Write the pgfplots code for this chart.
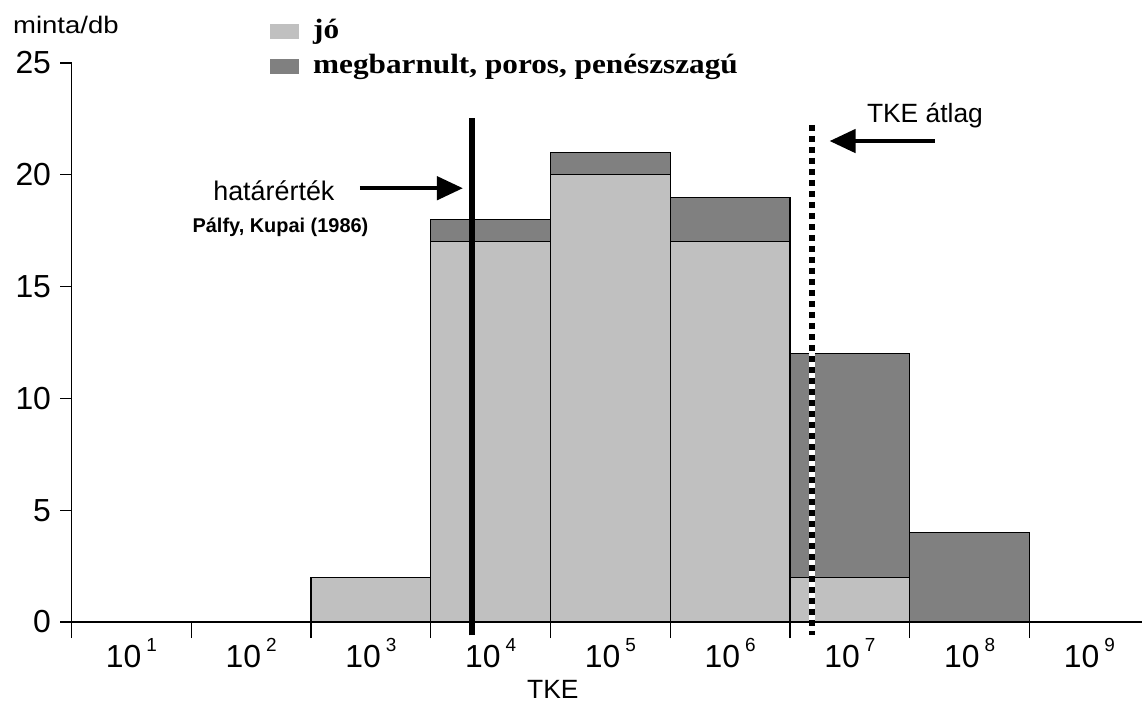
\documentclass[border=0pt]{standalone}
\usepackage{fontspec}
\setmainfont{Liberation Sans}
\newfontfamily\legfont[FakeStretch=1.12]{Liberation Serif}
\newfontfamily\widesans[FakeStretch=1.15]{Liberation Sans}
\usepackage{pgfplots}
\pgfplotsset{compat=1.18}
\usetikzlibrary{arrows.meta}

\definecolor{jo}{HTML}{C0C0C0}
\definecolor{barna}{HTML}{808080}

% tick label of the form 10^n, exponent set small and raised
\newcommand\tk[1]{10\hspace{5bp}\raisebox{16bp}{\fontsize{19}{19}\selectfont #1}}

\begin{document}
\begin{tikzpicture}
\path[use as bounding box] (0,0) rectangle (1142bp,-702bp);
\begin{axis}[
  at={(71.5bp,-622bp)}, anchor=south west,
  x=119.75bp, y=22.36bp,
  xmin=0.5, xmax=9.44, ymin=0, ymax=25,
  axis lines=left,
  axis line style={-, line width=1.3bp, black},
  clip=false,
  ybar stacked, bar width=1,
  xtick={1,...,9},
  xticklabels={\tk1,\tk2,\tk3,\tk4,\tk5,\tk6,\tk7,\tk8,\tk9},
  minor xtick={0.5,1.5,...,8.5},
  major x tick style={draw=none},
  minor x tick style={line width=1.3bp, black},
  ytick={0,5,...,25},
  major y tick style={line width=1.3bp, black},
  tick align=outside,
  major tick length=11bp, minor tick length=16bp,
  ticklabel style={font=\fontsize{32}{32}\selectfont},
  /pgf/number format/assume math mode=true,
  xticklabel style={anchor=base, yshift=-34bp},
  yticklabel style={anchor=east, xshift=-6bp},
  legend cell align=left,
  legend image code/.code={\fill[#1,draw=none] (0bp,-7.5bp) rectangle (29bp,7.5bp);},
  legend style={draw=none, fill=none, at={(0.1854,1.0805)}, anchor=north west,
    inner sep=0pt, row sep=8bp,
    font=\legfont\bfseries\fontsize{28}{28}\selectfont,
    nodes={inner sep=0pt, text height=20bp, text depth=7bp},
    /tikz/every odd column/.style={column sep=14bp}},
]
\addplot[fill=jo, draw=black, line width=1.2bp]
  coordinates {(3,2) (4,17) (5,20) (6,17) (7,2) (8,0)};
\addlegendentry{jó}
\addplot[fill=barna, draw=black, line width=1.2bp]
  coordinates {(3,0) (4,1) (5,1) (6,2) (7,10) (8,4)};
\addlegendentry{megbarnult, poros, penészszagú}

% reference points for the marker lines, drawn above the bars below
\coordinate (hatar-lo) at (axis cs:3.845,-0.6);
\coordinate (hatar-hi) at (axis cs:3.845,22.54);
\coordinate (hatar-a) at (axis cs:2.909,19.4);
\coordinate (hatar-b) at (axis cs:3.769,19.4);
\coordinate (atlag-lo) at (axis cs:6.684,-0.6);
\coordinate (atlag-hi) at (axis cs:6.684,22.23);
\coordinate (atlag-a) at (axis cs:7.71,21.51);
\coordinate (atlag-b) at (axis cs:6.83,21.51);

\node[anchor=base, inner sep=0pt, font=\fontsize{27}{27}\selectfont]
  at (axis cs:2.19,18.87) {határérték};
\node[anchor=base, inner sep=0pt, font=\bfseries\fontsize{20}{20}\selectfont]
  at (axis cs:2.245,17.44) {Pálfy, Kupai (1986)};
\node[anchor=base, inner sep=0pt, font=\fontsize{26.5}{26.5}\selectfont]
  at (axis cs:7.627,22.36) {TKE átlag};

% axis titles
\node[anchor=base west, inner sep=0pt, font=\widesans\fontsize{24}{24}\selectfont]
  at (axis cs:0.0115,26.3) {minta/db};
\node[anchor=base, inner sep=0pt, font=\fontsize{26.5}{26.5}\selectfont]
  at (axis cs:4.52,-3.4) {TKE};
\end{axis}

% threshold value
\draw[line width=6bp] (hatar-lo) -- (hatar-hi);
\draw[line width=4.5bp, -{Triangle[length=26bp,width=23bp]}] (hatar-a) -- (hatar-b);
% mean TKE: black dashes over a white line
\draw[white, line width=6bp] (atlag-hi) -- (atlag-lo);
\draw[black, line width=6bp, dash pattern=on 6.5bp off 4.5bp] (atlag-hi) -- (atlag-lo);
\draw[line width=4.5bp, -{Triangle[length=26bp,width=23bp]}] (atlag-a) -- (atlag-b);
\end{tikzpicture}
\end{document}
